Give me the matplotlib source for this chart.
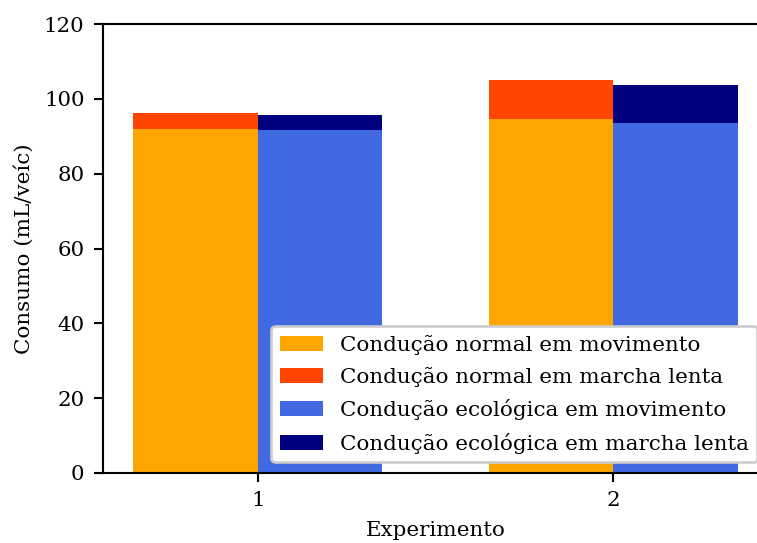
import numpy as np
import matplotlib
matplotlib.use('Agg')
import matplotlib.pyplot as plt

plt.rcParams['font.family'] = 'DejaVu Serif'
plt.rcParams['font.size'] = 8.1

experimentos = [1, 2]
normal_mov = [91.9, 94.6]
normal_lenta = [4.3, 10.4]
eco_mov = [91.7, 93.5]
eco_lenta = [4.0, 10.2]

largura = 0.35
x = np.array(experimentos, dtype=float)

DPI = 190
fig = plt.figure(figsize=(757/DPI, 543/DPI), dpi=DPI)
ax = fig.add_axes([103/757, 70/543, 665/757, 449/543])

ax.bar(x - largura/2, normal_mov, largura, color='orange', label='Condução normal em movimento')
ax.bar(x - largura/2, normal_lenta, largura, bottom=normal_mov, color='orangered',
       label='Condução normal em marcha lenta')
ax.bar(x + largura/2, eco_mov, largura, color='royalblue', label='Condução ecológica em movimento')
ax.bar(x + largura/2, eco_lenta, largura, bottom=eco_mov, color='navy',
       label='Condução ecológica em marcha lenta')

ax.set_xticks(x)
ax.set_xticklabels([str(e) for e in experimentos])
ax.set_ylim(0, 120)
ax.set_xlabel('Experimento')
ax.set_ylabel('Consumo (mL/veíc)')
ax.legend(loc='lower right', framealpha=1, labelspacing=0.58)

fig.savefig('out.png', dpi=DPI)
